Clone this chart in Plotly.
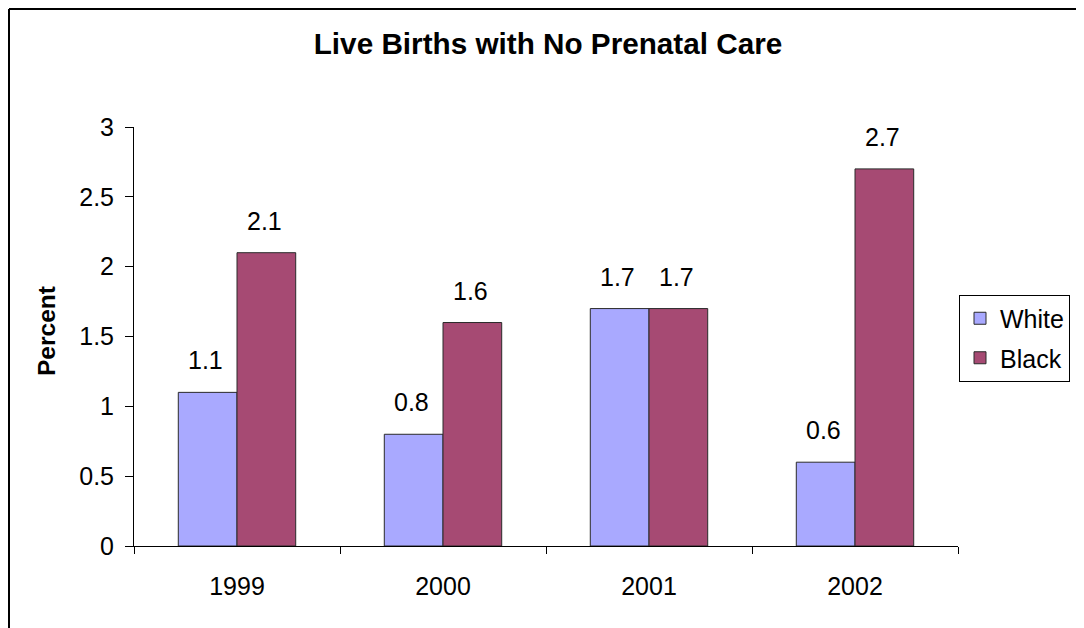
import plotly.graph_objects as go

years = ["1999", "2000", "2001", "2002"]
white = [1.1, 0.8, 1.7, 0.6]
black = [2.1, 1.6, 1.7, 2.7]
series_names = ["White", "Black"]
title = "Live Births with No Prenatal Care"
y_title = "Percent"

FONT = "Liberation Sans, Arial, sans-serif"
COLORS = ["#A9A9FF", "#A64A73"]

W, H = 1076, 620
L, T = 126, 119
PW, PH = 824, 419
R, B = W - L - PW, H - T - PH
BARGAP = 0.43

fig = go.Figure()
for name, vals, col in zip(series_names, [white, black], COLORS):
    fig.add_trace(go.Bar(name=name, x=years, y=vals, legendgroup=name,
                         marker=dict(color=col, line=dict(color="#2a2a2a", width=1))))

# data labels above each bar (x given as category index)
bar_px = PW / len(years) * (1 - BARGAP) / 2
for i, vals in enumerate([white, black]):
    shift = (i - 0.5) * bar_px
    for j, v in enumerate(vals):
        fig.add_annotation(x=j, y=v, xref="x", yref="y", text=f"{v:g}", showarrow=False,
                           xanchor="center", yanchor="bottom", xshift=shift - 2, yshift=16,
                           font=dict(size=25, family=FONT, color="black"))

fig.update_layout(
    width=W, height=H,
    margin=dict(l=L, r=R, t=T, b=B, autoexpand=False),
    paper_bgcolor="white", plot_bgcolor="white",
    font=dict(family=FONT, size=25, color="black"),
    barmode="group", bargap=BARGAP, bargroupgap=0,
    showlegend=True,
    legend=dict(x=(1062 - L) / PW, xanchor="right", y=(538 - 330) / PH, yanchor="middle",
                bordercolor="black", borderwidth=1, bgcolor="white",
                traceorder="grouped", tracegroupgap=4,
                font=dict(size=25, family=FONT), itemwidth=30),
    title=dict(text="<b>" + title + "</b>", x=540 / W, xanchor="center",
               y=1 - 36 / H, yanchor="middle", font=dict(size=29.7, family=FONT)),
)
fig.update_xaxes(type="category", categoryorder="array", categoryarray=years,
                 range=[-0.5, len(years) - 0.5],
                 showline=True, linecolor="black", linewidth=1,
                 ticks="outside", ticklen=7, tickcolor="black", tickson="boundaries",
                 tickangle=0, automargin=False,
                 ticklabelstandoff=18, tickfont=dict(size=25), showgrid=False)
fig.update_yaxes(range=[0, 3], dtick=0.5, showline=True, linecolor="black", linewidth=1,
                 ticks="outside", ticklen=8, tickcolor="black", ticklabelstandoff=6,
                 automargin=False,
                 tickfont=dict(size=25), showgrid=False, zeroline=False)
fig.add_annotation(text="<b>" + y_title + "</b>", xref="paper", yref="paper",
                   x=(38 - L) / PW, y=(538 - 323) / PH,
                   xanchor="center", yanchor="middle", textangle=-90, showarrow=False,
                   font=dict(size=24.5, family=FONT))
# outer chart border: left and top edges (cropped on right/bottom)
fig.add_shape(type="line", xref="paper", yref="paper",
              x0=(1 - L) / PW, x1=(1 - L) / PW, y0=(PH + T - H - 5) / PH, y1=(PH + T - 1) / PH,
              line=dict(color="black", width=2))
fig.add_shape(type="line", xref="paper", yref="paper",
              x0=(1 - L) / PW, x1=(1071 - L) / PW, y0=(PH + T - 1) / PH, y1=(PH + T - 1) / PH,
              line=dict(color="black", width=2))
fig.write_html("out.html")
